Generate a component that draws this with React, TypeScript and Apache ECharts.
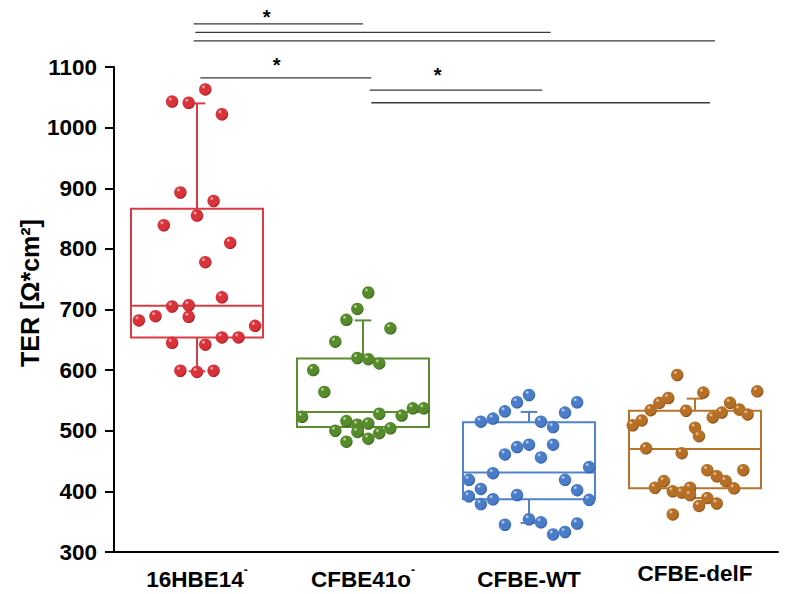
import React, { useEffect, useRef } from "react";
import * as echarts from "echarts";

// ---------------- data ----------------
const categories = ["16HBE14", "CFBE41o", "CFBE-WT", "CFBE-delF"];
const categorySup = ["-", "-", "", ""];
const yMin = 300;
const yMax = 1100;
const yInterval = 100;
const yTitle = "TER [Ω*cm²]";

// individual measurements (value) and horizontal jitter (in category widths)
const hbeValues = [1063, 1043, 1041, 1022, 893, 879, 855, 839, 810, 778, 720, 705, 707, 682, 689, 688, 673, 645, 642, 654, 654, 599, 597, 599];
const hbeJitter = [0.05, -0.15, -0.05, 0.15, -0.1, 0.1, 0, -0.2, 0.2, 0.05, 0.15, -0.15, -0.05, -0.35, -0.25, -0.05, 0.35, -0.15, 0.05, 0.15, 0.25, -0.1, 0, 0.1];

const cfbe41Values = [728, 701, 683, 669, 647, 620, 618, 611, 600, 564, 523, 528, 537, 537, 525, 516, 510, 512, 500, 498, 496, 504, 482, 487];
const cfbe41Jitter = [0.032, -0.034, -0.1, 0.165, -0.167, -0.034, 0.032, 0.098, -0.3, -0.233, -0.367, 0.098, 0.3, 0.366, 0.233, -0.1, -0.034, 0.032, -0.167, -0.034, 0.098, 0.165, -0.1, 0.032];

const wtValues = [559, 547, 532, 520, 515, 547, 530, 515, 506, 461, 473, 477, 477, 456, 440, 430, 419, 419, 404, 402, 392, 387, 394, 386, 379, 345, 354, 349, 329, 333, 347];
const wtJitter = [0, -0.072, -0.145, -0.217, -0.29, 0.29, 0.217, 0.072, 0.145, -0.145, -0.072, 0, 0.145, 0.072, 0.362, -0.217, -0.362, 0.217, -0.29, 0.29, -0.362, -0.217, -0.072, 0.362, -0.29, -0.145, 0, 0.072, 0.145, 0.217, 0.29];

const delfValues = [592, 565, 563, 554, 546, 534, 533, 546, 535, 527, 530, 522, 517, 509, 505, 491, 471, 463, 435, 435, 425, 417, 417, 406, 405, 400, 398, 406, 394, 389, 380, 376, 362];
const delfJitter = [-0.107, 0.375, 0.05, -0.161, -0.215, -0.267, -0.054, 0.211, 0.267, 0.317, 0.161, 0.107, -0.321, -0.375, 0, 0.024, -0.295, -0.08, 0.074, 0.291, 0.131, 0.185, -0.187, -0.241, 0.235, -0.134, -0.08, -0.03, -0.03, 0.074, 0.131, 0.024, -0.134];

// box statistics: [min, Q1, median, Q3, max]
const hbeBox = [598, 654, 706, 866, 1040];
const cfbe41Box = [492, 506, 531, 619, 682];
const wtBox = [348, 387, 431, 514, 531];
const delfBox = [389, 405, 470, 533, 553];

// significance bars: [from category, to category, y value]
const sigBarFrom = [-0.02, -0.01, -0.02, 0.02, 1.04, 1.05];
const sigBarTo = [1.0, 2.13, 3.12, 1.05, 2.08, 3.09];
const sigBarY = [1171, 1157, 1143, 1082, 1062, 1041];
const sigStarX = [0.42, 0.48, 1.45];
const sigStarY = [1191, 1112, 1095];

// ---------------- styles ----------------
const FONT = "'Liberation Sans', Arial, sans-serif";
const boxColors = ["#d93c43", "#5b8c30", "#5283c9", "#b8732d"];
const dotBase = ["#d8333a", "#568a2b", "#4a7cc7", "#b56f26"];
const dotDark = ["#a3161c", "#33601a", "#2a56a0", "#84480f"];
const dotLight = ["#ffd6d6", "#d8efc6", "#dbe8fb", "#f7dcc0"];

export default function App() {
  const ref = useRef<HTMLDivElement>(null);

  useEffect(() => {
    const chart = echarts.init(ref.current!, null, { renderer: "svg" });

    const groups = [
      { v: hbeValues, j: hbeJitter },
      { v: cfbe41Values, j: cfbe41Jitter },
      { v: wtValues, j: wtJitter },
      { v: delfValues, j: delfJitter },
    ];
    const boxes = [hbeBox, cfbe41Box, wtBox, delfBox];
    const boxData = boxes.map((b, i) => [i, ...b]);

    const BOX_W = 0.795;
    const CAP_W = 0.1;

    const scatterSeries = groups.map((g, gi) => ({
      type: "scatter",
      xAxisIndex: 1,
      yAxisIndex: 0,
      z: 3,
      symbol: "circle",
      symbolSize: 12.5,
      data: g.v.map((val, k) => [gi + g.j[k], val]),
      itemStyle: {
        color: new echarts.graphic.RadialGradient(0.35, 0.3, 0.75, [
          { offset: 0, color: dotLight[gi] },
          { offset: 0.22, color: dotBase[gi] },
          { offset: 0.75, color: dotBase[gi] },
          { offset: 1, color: dotDark[gi] },
        ]),
        opacity: 1,
      },
      emphasis: { disabled: true },
    }));

    const boxSeries = {
      type: "custom",
      xAxisIndex: 1,
      yAxisIndex: 0,
      z: 2,
      data: boxData,
      encode: { x: 0, y: [1, 2, 3, 4, 5] },
      renderItem: (params: any, api: any) => {
        const idx = api.value(0);
        const [mn, q1, md, q3, mx] = [1, 2, 3, 4, 5].map((d) => api.coord([idx, api.value(d)])[1]);
        const cx = api.coord([idx, 0])[0];
        const hw = api.size([BOX_W, 0])[0] / 2;
        const cw = api.size([CAP_W, 0])[0] / 2;
        const color = boxColors[params.dataIndex];
        const st = { stroke: color, lineWidth: 2, fill: "none" };
        return {
          type: "group",
          children: [
            { type: "rect", shape: { x: cx - hw, y: q3, width: hw * 2, height: q1 - q3 }, style: { ...st } },
            { type: "line", shape: { x1: cx - hw, y1: md, x2: cx + hw, y2: md }, style: { ...st } },
            { type: "line", shape: { x1: cx, y1: q3, x2: cx, y2: mx }, style: { ...st } },
            { type: "line", shape: { x1: cx - cw, y1: mx, x2: cx + cw, y2: mx }, style: { ...st } },
            { type: "line", shape: { x1: cx, y1: q1, x2: cx, y2: mn }, style: { ...st } },
            { type: "line", shape: { x1: cx - cw, y1: mn, x2: cx + cw, y2: mn }, style: { ...st } },
          ],
        };
      },
    };

    const option: any = {
      animation: false,
      backgroundColor: "#ffffff",
      grid: { left: 114, right: 8, top: 67, bottom: 42, containLabel: false },
      xAxis: [
        {
          type: "category",
          data: categories,
          boundaryGap: true,
          axisLine: { show: true, onZero: false, lineStyle: { color: "#000", width: 2 } },
          axisTick: { show: false },
          splitLine: { show: false },
          axisLabel: {
            margin: 12,
            interval: 0,
            formatter: (value: string, i: number) => {
              const key = i === 3 ? "d" : "b";
              return categorySup[i] ? `{${key}|${value}}{s|${categorySup[i]}}` : `{${key}|${value}}`;
            },
            rich: {
              b: { fontSize: 22.5, fontWeight: "bold", fontFamily: FONT, color: "#000", lineHeight: 30 },
              d: { fontSize: 22.5, fontWeight: "bold", fontFamily: FONT, color: "#000", lineHeight: 18 },
              s: { fontSize: 12, fontWeight: "bold", fontFamily: FONT, color: "#000", verticalAlign: "top", lineHeight: 12 },
            },
          },
        },
        {
          type: "value",
          min: -0.5,
          max: 3.5,
          show: false,
          axisLine: { onZero: false },
          splitLine: { show: false },
        },
      ],
      yAxis: {
        type: "value",
        min: yMin,
        max: yMax,
        interval: yInterval,
        axisLine: { show: true, onZero: false, lineStyle: { color: "#000", width: 2 } },
        axisTick: { show: true, inside: false, length: 9, lineStyle: { color: "#000", width: 2 } },
        splitLine: { show: false },
        axisLabel: {
          margin: 17,
          fontSize: 22.5,
          fontWeight: "bold",
          fontFamily: FONT,
          color: "#000",
          formatter: (v: number) => String(v),
        },
      },
      series: [boxSeries, ...scatterSeries],
    };

    chart.setOption(option);

    const px = (x: number) => chart.convertToPixel({ xAxisIndex: 1 } as any, x) as number;
    const py = (y: number) => chart.convertToPixel({ yAxisIndex: 0 } as any, y) as number;

    const graphics: any[] = [];
    sigBarY.forEach((y, i) => {
      graphics.push({
        type: "line",
        z: 10,
        shape: { x1: px(sigBarFrom[i]), y1: py(y), x2: px(sigBarTo[i]), y2: py(y) },
        style: { stroke: "#3a3a3a", lineWidth: 1.3 },
      });
    });
    sigStarX.forEach((x, i) => {
      graphics.push({
        type: "text",
        z: 10,
        x: px(x),
        y: py(sigStarY[i]) + 5,
        style: {
          text: "*",
          fontSize: 20,
          fontWeight: "bold",
          fontFamily: FONT,
          fill: "#000",
          align: "center",
          verticalAlign: "middle",
          textAlign: "center",
          textVerticalAlign: "middle",
        },
      });
    });
    graphics.push({
      type: "text",
      z: 10,
      x: 30,
      y: 293,
      rotation: Math.PI / 2,
      style: {
        text: yTitle,
        fontSize: 25,
        fontWeight: "bold",
        fontFamily: FONT,
        fill: "#000",
        align: "center",
        verticalAlign: "middle",
        textAlign: "center",
        textVerticalAlign: "middle",
      },
    });
    chart.setOption({ graphic: graphics });

    return () => chart.dispose();
  }, []);

  return (
    <div
      ref={ref}
      style={{ position: "fixed", left: 0, top: 0, width: 786, height: 594, background: "#fff" }}
    />
  );
}
